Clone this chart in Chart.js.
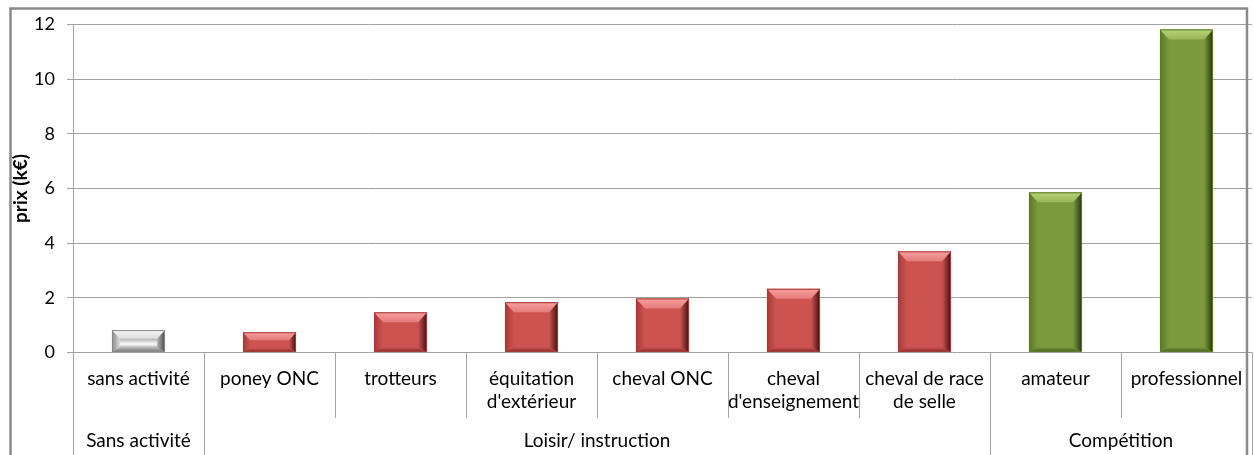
<!DOCTYPE html>
<html>
<head>
<meta charset="utf-8">
<script src="https://cdn.jsdelivr.net/npm/chart.js@4"></script>
<style>
  html, body { margin: 0; padding: 0; background: #fff; }
  #wrap { position: relative; width: 1254px; height: 455px; }
</style>
</head>
<body>
<div id="wrap"><canvas id="priceChart"></canvas></div>
<script>
// Prix moyen d'un cheval selon son activité (k€), bars grouped by use.
const CATEGORIES = [
  ["sans activité"],
  ["poney ONC"],
  ["trotteurs"],
  ["équitation", "d'extérieur"],
  ["cheval ONC"],
  ["cheval", "d'enseignement"],
  ["cheval de race", "de selle"],
  ["amateur"],
  ["professionnel"],
];
const PRICES = [0.82, 0.74, 1.47, 1.84, 1.98, 2.33, 3.70, 5.86, 11.82];
const GROUPS = ["Sans activité", "Loisir/ instruction", "Compétition"];
const GROUP_SIZES = [1, 6, 2];
const Y_MIN = 0;
const Y_MAX = 12;
const Y_STEP = 2;

const FONT = "Lato, 'Open Sans', sans-serif";
const GRID = "#a3a3a3";

// face + bevel edge tones, one palette per group
const PALETTES = [
  { face: "#b4b4b4", topEdge: "#f6f6f6", topIn: "#dcdcdc", leftEdge: "#8a8a8a", rightEdge: "#4a4a4a", bottomEdge: "#747474", outline: "#888888", shine: "#fbfbfb" },
  { face: "#cd5351", topEdge: "#f7a09e", topIn: "#e47c7a", leftEdge: "#a8393700", rightEdge: "#3e1110", bottomEdge: "#842c2a", outline: "#a23a38", shine: null },
  { face: "#7a9a3d", topEdge: "#b8d376", topIn: "#98b758", leftEdge: "#5a7827", rightEdge: "#27360f", bottomEdge: "#475c22", outline: "#5b782b", shine: null },
];

// which group each bar belongs to, from GROUP_SIZES
const BAR_GROUP = GROUP_SIZES.flatMap((n, g) => Array(n).fill(g));

function poly(ctx, pts, fill) {
  ctx.beginPath();
  ctx.moveTo(pts[0][0], pts[0][1]);
  for (let k = 1; k < pts.length; k++) ctx.lineTo(pts[k][0], pts[k][1]);
  ctx.closePath();
  ctx.fillStyle = fill;
  ctx.fill();
}

function grad(ctx, x0, y0, x1, y1, c0, c1) {
  const g = ctx.createLinearGradient(x0, y0, x1, y1);
  g.addColorStop(0, c0);
  g.addColorStop(1, c1);
  return g;
}

const bevelPlugin = {
  id: "bevel",
  afterDatasetsDraw(chart) {
    const ctx = chart.ctx;
    const meta = chart.getDatasetMeta(0);
    ctx.save();
    meta.data.forEach((bar, i) => {
      const { x, y, base, width } = bar.getProps(["x", "y", "base", "width"], true);
      const l = x - width / 2, r = x + width / 2, t = y, b = base;
      const h = b - t;
      const dt = Math.min(10, h * 0.4);
      const ds = Math.min(9, h * 0.36);
      const db = Math.min(5, h * 0.2);
      const pal = PALETTES[BAR_GROUP[i]];
      if (pal.shine) {
        const g = ctx.createLinearGradient(0, t + dt, 0, b - db);
        g.addColorStop(0, pal.face);
        g.addColorStop(0.6, pal.shine);
        g.addColorStop(1, pal.face);
        ctx.fillStyle = g;
        ctx.fillRect(l, t, width, h);
      }
      poly(ctx, [[l, t], [l + ds, t + dt], [l + ds, b - db], [l, b]],
        grad(ctx, l, 0, l + ds, 0, pal.leftEdge.slice(0, 7), pal.shine ? pal.topIn : pal.face));
      poly(ctx, [[r, t], [r, b], [r - ds, b - db], [r - ds, t + dt]],
        grad(ctx, r - ds, 0, r, 0, pal.face, pal.rightEdge));
      poly(ctx, [[l, b], [l + ds, b - db], [r - ds, b - db], [r, b]],
        grad(ctx, 0, b - db, 0, b, pal.face, pal.bottomEdge));
      poly(ctx, [[l, t], [r, t], [r - ds, t + dt], [l + ds, t + dt]],
        grad(ctx, 0, t, 0, t + dt, pal.topEdge, pal.topIn));
      ctx.strokeStyle = pal.outline;
      ctx.lineWidth = 1;
      ctx.strokeRect(l + 0.5, t + 0.5, width - 1, h - 1);
    });
    ctx.restore();
  },
};

// category dividers, group labels and the outer frame
const groupAxisPlugin = {
  id: "groupAxis",
  afterDraw(chart) {
    const ctx = chart.ctx;
    const xs = chart.scales.x;
    const area = chart.chartArea;
    const step = xs.getPixelForValue(1) - xs.getPixelForValue(0);
    const edge = (i) => xs.getPixelForValue(i) - step / 2;
    const bottom = chart.height;
    ctx.save();
    ctx.strokeStyle = GRID;
    ctx.lineWidth = 1;
    // short dividers between categories
    for (let i = 1; i < CATEGORIES.length; i++) {
      const px = Math.round(edge(i)) + 0.5;
      ctx.beginPath();
      ctx.moveTo(px, area.bottom);
      ctx.lineTo(px, 418);
      ctx.stroke();
    }
    // group dividers + labels
    let start = 0;
    ctx.fillStyle = "#000";
    ctx.font = "19px " + FONT;
    ctx.textAlign = "center";
    ctx.textBaseline = "middle";
    GROUP_SIZES.forEach((n, g) => {
      const x0 = edge(start), x1 = edge(start + n);
      [x0, x1].forEach((px) => {
        const p = Math.round(px) + 0.5;
        ctx.beginPath();
        ctx.moveTo(p, area.bottom);
        ctx.lineTo(p, bottom);
        ctx.stroke();
      });
      ctx.fillText(GROUPS[g], (x0 + x1) / 2, 441);
      start += n;
    });
    // outer chart frame
    ctx.strokeStyle = "#8a8a8a";
    ctx.lineWidth = 2.5;
    ctx.beginPath();
    ctx.moveTo(10.5, bottom);
    ctx.lineTo(10.5, 8.5);
    ctx.lineTo(1247, 8.5);
    ctx.lineTo(1247, bottom);
    ctx.stroke();
    ctx.restore();
  },
};

new Chart(document.getElementById("priceChart"), {
  type: "bar",
  data: {
    labels: CATEGORIES,
    datasets: [{
      data: PRICES,
      backgroundColor: BAR_GROUP.map((g) => PALETTES[g].face),
      borderWidth: 0,
      categoryPercentage: 1,
      barPercentage: 0.405,
    }],
  },
  options: {
    responsive: true,
    maintainAspectRatio: false,
    animation: false,
    layout: { padding: { top: 24.5, right: 2, left: 0, bottom: 0 } },
    plugins: { legend: { display: false }, tooltip: { enabled: false } },
    scales: {
      x: {
        grid: { display: false },
        border: { display: false },
        ticks: {
          color: "#000",
          font: { family: FONT, size: 19, lineHeight: 1.2 },
          padding: 7,
          maxRotation: 0,
          autoSkip: false,
        },
        afterFit: (s) => { s.height = 102.5; },
      },
      y: {
        min: Y_MIN,
        max: Y_MAX,
        ticks: {
          stepSize: Y_STEP,
          color: "#000",
          font: { family: FONT, size: 18 },
          padding: 12,
        },
        grid: { color: GRID, lineWidth: 1, tickLength: 6 },
        border: { display: true, color: GRID },
        title: {
          display: true,
          text: "prix (k€)",
          color: "#000",
          font: { family: FONT, size: 19, weight: "bold" },
          padding: { top: 9, bottom: 0 },
        },
        afterFit: (s) => { s.width = 73; },
      },
    },
  },
  plugins: [bevelPlugin, groupAxisPlugin],
});
</script>
</body>
</html>
